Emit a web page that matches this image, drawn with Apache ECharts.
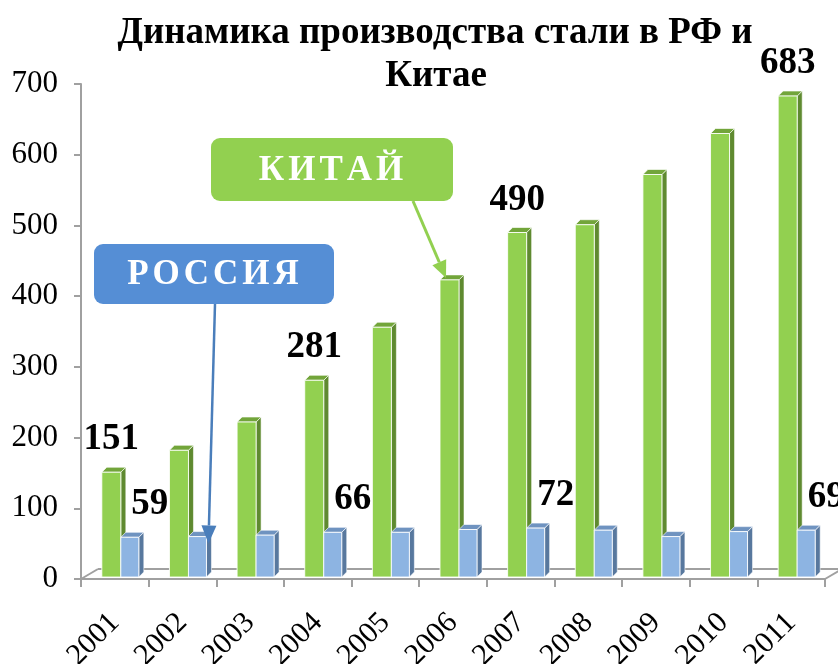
<!DOCTYPE html>
<html>
<head>
<meta charset="utf-8">
<script src="https://cdn.jsdelivr.net/npm/echarts@6/dist/echarts.min.js"></script>
<style>
html,body{margin:0;padding:0;background:#fff;}
#c{width:838px;height:664px;}
</style>
</head>
<body>
<div id="c"></div>
<script>
var years = ['2001','2002','2003','2004','2005','2006','2007','2008','2009','2010','2011'];
var china = [151, 182, 222, 281, 356, 423, 490, 501, 572, 630, 683];
var russia = [59, 60, 62, 66, 66, 70, 72, 69, 60, 67, 69];
var labeledIdx = [0, 3, 6, 10];
var yTicks = [0, 100, 200, 300, 400, 500, 600, 700];
var titleText = ['Динамика производства стали в РФ и', 'Китае'];
var chinaName = 'КИТАЙ';
var russiaName = 'РОССИЯ';

var SERIF = '"Liberation Serif", "Times New Roman", serif';
var chart = echarts.init(document.getElementById('c'), null, {renderer: 'canvas'});

var DX = 5, DY = -5;
function makeRender(colors, offL, w, labelDx) {
  return function (params, api) {
    var idx = api.value(0);
    var val = api.value(1);
    var top = api.coord([idx, val]);
    var bot = api.coord([idx, 0]);
    var c = top[0];
    var xl = c + offL, xr = xl + w;
    var yt = top[1], yb = bot[1] - 2;
    var children = [
      {type: 'polygon', shape: {points: [[xr, yt], [xr + DX, yt + DY], [xr + DX, yb + DY], [xr, yb]]},
        style: {fill: colors.side, stroke: 'rgba(255,255,255,0.7)', lineWidth: 0.8}},
      {type: 'polygon', shape: {points: [[xl, yt], [xr, yt], [xr + DX, yt + DY], [xl + DX, yt + DY]]},
        style: {fill: colors.top, stroke: 'rgba(255,255,255,0.8)', lineWidth: 0.8}},
      {type: 'rect', shape: {x: xl, y: yt, width: w, height: yb - yt},
        style: {fill: colors.front, stroke: 'rgba(255,255,255,0.85)', lineWidth: 1}}
    ];
    if (labeledIdx.indexOf(idx) >= 0) {
      children.push({type: 'text', z2: 100, style: {
        text: String(val), x: (xl + xr) / 2 + labelDx, y: yt - 14,
        align: 'center', verticalAlign: 'bottom',
        font: 'bold 37px ' + SERIF, fill: '#000'
      }});
    }
    return {type: 'group', children: children};
  };
}

var option = {
  animation: false,
  backgroundColor: '#fff',
  grid: {left: 81, right: 13, top: 84, bottom: 85, containLabel: false, outerBoundsMode: 'none'},
  xAxis: {
    type: 'category', data: years, boundaryGap: true,
    axisLine: {show: true, lineStyle: {color: '#a0a0a0', width: 2}},
    axisTick: {show: true, length: 8, lineStyle: {color: '#a0a0a0', width: 2}},
    axisLabel: {rotate: 45, fontFamily: SERIF, fontSize: 30, color: '#000', margin: 39, interval: 0}
  },
  yAxis: {
    type: 'value', min: 0, max: 700, interval: 100,
    axisLine: {show: true, lineStyle: {color: '#a0a0a0', width: 2}},
    axisTick: {show: true, length: 7, lineStyle: {color: '#a0a0a0', width: 2}},
    splitLine: {show: false},
    axisLabel: {fontFamily: SERIF, fontSize: 31, color: '#000', margin: 23,
      formatter: function (v) { return yTicks.indexOf(v) >= 0 ? String(v) : ''; }}
  },
  series: [
    {type: 'custom', name: chinaName, renderItem: makeRender({front: '#92D050', side: '#5F8A30', top: '#72A53A'}, -13, 19, 0),
      data: china.map(function (v, i) { return [i, v]; }), z: 3, clip: false},
    {type: 'custom', name: russiaName, renderItem: makeRender({front: '#8DB4E2', side: '#58789E', top: '#6F93C0'}, 6, 18, 20),
      data: russia.map(function (v, i) { return [i, v]; }), z: 4, clip: false}
  ]
};
chart.setOption(option);

var ctx = document.createElement('canvas').getContext('2d');
function spaced(str, cx, cy, size, spacing, color, z) {
  var font = 'bold ' + size + 'px ' + SERIF;
  ctx.font = font;
  var chars = str.split('');
  var widths = chars.map(function (ch) { return ctx.measureText(ch).width; });
  var total = widths.reduce(function (a, b) { return a + b; }, 0) + spacing * (chars.length - 1);
  var x = cx - total / 2;
  var out = [];
  chars.forEach(function (ch, i) {
    out.push({type: 'text', z: z, style: {text: ch, x: x, y: cy, align: 'left', verticalAlign: 'middle', font: font, fill: color}});
    x += widths[i] + spacing;
  });
  return out;
}

function arrow(x1, y1, x2, y2, color, lw, headLen, headW, z) {
  var ang = Math.atan2(y2 - y1, x2 - x1);
  var bx = x2 - headLen * Math.cos(ang), by = y2 - headLen * Math.sin(ang);
  var px = -Math.sin(ang) * headW / 2, py = Math.cos(ang) * headW / 2;
  return [
    {type: 'line', z: z, shape: {x1: x1, y1: y1, x2: bx, y2: by}, style: {stroke: color, lineWidth: lw}},
    {type: 'polygon', z: z, shape: {points: [[x2, y2], [bx + px, by + py], [bx - px, by - py]]}, style: {fill: color}}
  ];
}

var p0 = chart.convertToPixel({gridIndex: 0}, [0, 0]);
var pLast = chart.convertToPixel({gridIndex: 0}, [years.length - 1, 0]);
var catW = (pLast[0] - p0[0]) / (years.length - 1);
var xLeft = p0[0] - catW / 2, xRight = pLast[0] + catW / 2;
var yFloor = p0[1];
var fdx = 17, fdy = -10;

var tipC = chart.convertToPixel({gridIndex: 0}, [5, china[5]]);
var tipR = chart.convertToPixel({gridIndex: 0}, [1, russia[1]]);

var graphics = [
  {type: 'line', z: 1, shape: {x1: xLeft, y1: yFloor, x2: xLeft + fdx, y2: yFloor + fdy}, style: {stroke: '#a0a0a0', lineWidth: 2}},
  {type: 'line', z: 1, shape: {x1: xLeft + fdx, y1: yFloor + fdy, x2: xRight + fdx, y2: yFloor + fdy}, style: {stroke: '#a0a0a0', lineWidth: 2}},
  {type: 'line', z: 1, shape: {x1: xRight, y1: yFloor, x2: xRight + fdx, y2: yFloor + fdy}, style: {stroke: '#a0a0a0', lineWidth: 2}},
  {type: 'text', z: 10, style: {text: titleText[0], x: 435, y: 33, align: 'center', verticalAlign: 'middle', font: 'bold 37px ' + SERIF, fill: '#000'}},
  {type: 'text', z: 10, style: {text: titleText[1], x: 436, y: 76, align: 'center', verticalAlign: 'middle', font: 'bold 37px ' + SERIF, fill: '#000'}},
  {type: 'rect', z: 10, shape: {x: 211, y: 138, width: 242, height: 63, r: 9}, style: {fill: '#92D050'}},
  {type: 'rect', z: 10, shape: {x: 94, y: 244, width: 240, height: 60, r: 9}, style: {fill: '#558ED5'}}
];
graphics = graphics
  .concat(spaced(chinaName, 331, 171, 35, 4, '#fff', 11))
  .concat(spaced(russiaName, 213, 275, 35, 4, '#fff', 11))
  .concat(arrow(413, 201, tipC[0] - 7, tipC[1] - 2, '#92D050', 3, 17, 15, 12))
  .concat(arrow(215, 304, tipR[0] + 26, tipR[1] + 7, '#4A7EBB', 2.5, 18, 15, 12));
chart.setOption({graphic: graphics});
</script>
</body>
</html>
